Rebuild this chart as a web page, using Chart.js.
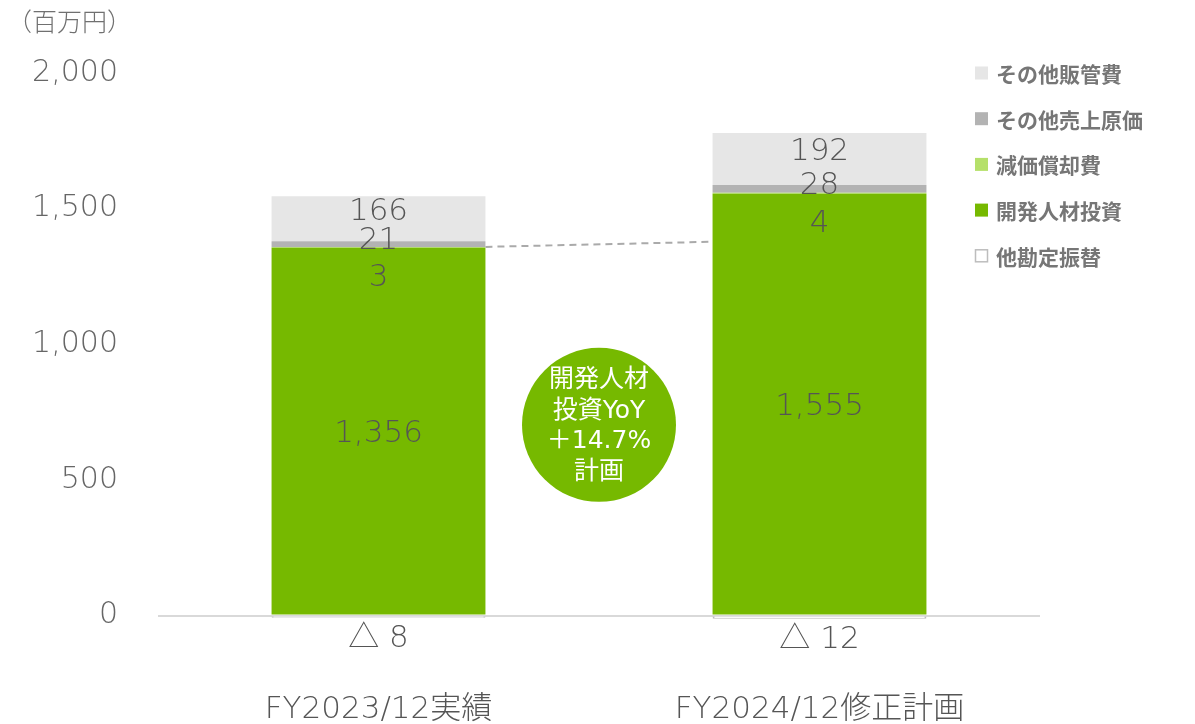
<!DOCTYPE html>
<html>
<head>
<meta charset="utf-8">
<script src="https://cdn.jsdelivr.net/npm/chart.js@4.4.1/dist/chart.umd.min.js"></script>
<style>
  html, body { margin: 0; padding: 0; background: #fff; }
</style>
</head>
<body>
<canvas id="myChart" width="1195" height="724"></canvas>
<script>
// data
const categories = ['FY2023/12実績', 'FY2024/12修正計画']
const seriesNames = ['他勘定振替', '開発人材投資', '減価償却費', 'その他売上原価', 'その他販管費']
const transfer = [-8, -12]
const devInvest = [1356, 1555]
const depreciation = [3, 4]
const otherCost = [21, 28]
const otherSga = [166, 192]
const yTicks = [0, 500, 1000, 1500, 2000]
const unitLabel = '（百万円）'
const bubbleText = ['開発人材', '投資YoY', '＋14.7%', '計画']
const connector = [1359, 1378]

const FONT = "'Noto Sans CJK JP', 'Noto Sans', sans-serif"
const NUMFONT = "'DejaVu Sans', 'Noto Sans CJK JP', sans-serif"
const colors = ['#ffffff', '#76b900', '#b5e06a', '#b3b3b3', '#e6e6e6']
const borders = ['#bdbdbd', '#76b900', '#b5e06a', '#b3b3b3', '#e6e6e6']

function fmt(v) {
    if (v < 0) return '△ ' + Math.abs(v).toLocaleString('en-US')
    return v.toLocaleString('en-US')
}

// where each segment's label sits relative to the segment
const labelPlace = [
    (el) => el.y + 21,
    (el) => (el.y + el.base) / 2 + 3,
    (el) => el.y + 31,
    (el) => (el.y + el.base) / 2 - 3,
    (el) => (el.y + el.base) / 2 - 7,
]

const extras = {
    id: 'extras',
    afterDatasetsDraw(chart) {
        const ctx = chart.ctx
        const x = chart.scales.x
        const y = chart.scales.y

        // dashed connector between the green bars
        const m0 = chart.getDatasetMeta(1).data[0]
        const m1 = chart.getDatasetMeta(1).data[1]
        ctx.save()
        ctx.strokeStyle = '#aaaaaa'
        ctx.lineWidth = 2
        ctx.setLineDash([7, 5])
        ctx.beginPath()
        ctx.moveTo(m0.x + m0.width / 2, y.getPixelForValue(connector[0]))
        ctx.lineTo(m1.x - m1.width / 2, y.getPixelForValue(connector[1]))
        ctx.stroke()
        ctx.restore()

        // segment labels
        ctx.save()
        ctx.fillStyle = '#555555'
        ctx.font = '200 31px ' + NUMFONT
        ctx.textAlign = 'center'
        ctx.textBaseline = 'middle'
        chart.data.datasets.forEach((ds, i) => {
            chart.getDatasetMeta(i).data.forEach((el, j) => {
                ctx.fillText(fmt(ds.data[j]), el.x, labelPlace[i](el))
            })
        })
        ctx.restore()

        // green bubble
        const cx = (x.getPixelForValue(0) + x.getPixelForValue(1)) / 2
        const cy = y.getPixelForValue(703)
        ctx.save()
        ctx.fillStyle = '#76b900'
        ctx.beginPath()
        ctx.arc(cx, cy, 77, 0, Math.PI * 2)
        ctx.fill()
        ctx.fillStyle = '#ffffff'
        ctx.font = '25px ' + NUMFONT
        ctx.textAlign = 'center'
        ctx.textBaseline = 'middle'
        bubbleText.forEach((t, k) => {
            ctx.fillText(t, cx, cy - 44 + k * 30.5)
        })
        ctx.restore()
    },
    afterDraw(chart) {
        const ctx = chart.ctx
        ctx.save()
        // unit label
        ctx.fillStyle = '#707070'
        ctx.font = '300 25px ' + FONT
        ctx.textAlign = 'left'
        ctx.textBaseline = 'middle'
        ctx.fillText(unitLabel, 7, 21)

        // legend, top series first
        ctx.font = 'bold 21px ' + FONT
        for (let k = 0; k < seriesNames.length; k++) {
            const i = seriesNames.length - 1 - k
            const ly = 73 + k * 45.7
            if (i === 0) {
                ctx.fillStyle = '#ffffff'
                ctx.fillRect(975, ly - 6.5, 13, 13)
                ctx.strokeStyle = '#bdbdbd'
                ctx.lineWidth = 1.5
                ctx.strokeRect(975.5, ly - 6, 12, 12)
            } else {
                ctx.fillStyle = colors[i]
                ctx.fillRect(975, ly - 6.5, 13, 13)
            }
            ctx.fillStyle = '#767676'
            ctx.fillText(seriesNames[i], 996, ly + 1)
        }
        ctx.restore()
    }
}

const seriesData = [transfer, devInvest, depreciation, otherCost, otherSga]

const ctx = document.getElementById('myChart')
const myChart = new Chart(ctx, {
    type: 'bar',
    data: {
        labels: categories,
        datasets: seriesData.map((d, i) => ({
            label: seriesNames[i],
            data: d,
            backgroundColor: colors[i],
            borderColor: borders[i],
            borderWidth: i === 0 ? 2 : 0,
            categoryPercentage: 1,
            barPercentage: 0.485,
        })),
    },
    options: {
        responsive: false,
        animation: false,
        devicePixelRatio: 1,
        layout: { padding: { top: 73, right: 155, left: 0, bottom: 0 } },
        plugins: {
            legend: { display: false },
            tooltip: { enabled: false },
        },
        scales: {
            x: {
                stacked: true,
                grid: { display: false, drawTicks: false },
                border: { display: false },
                ticks: {
                    padding: 70,
                    color: '#555555',
                    font: { family: NUMFONT, size: 31, weight: '200' },
                },
                afterFit(scale) { scale.height = 103 },
            },
            y: {
                stacked: true,
                min: -20,
                max: 2000,
                afterBuildTicks(scale) {
                    scale.ticks = yTicks.map(v => ({ value: v }))
                },
                grid: {
                    drawTicks: false,
                    lineWidth: 2,
                    color: c => (c.tick && c.tick.value === 0 ? '#d9d9d9' : 'rgba(0,0,0,0)'),
                },
                border: { display: false },
                ticks: {
                    padding: 40,
                    color: '#666666',
                    font: { family: NUMFONT, size: 30, weight: '200' },
                    callback: v => v.toLocaleString('en-US'),
                },
                afterFit(scale) { scale.width = 158 },
            },
        },
    },
    plugins: [extras],
})
</script>
</body>
</html>
